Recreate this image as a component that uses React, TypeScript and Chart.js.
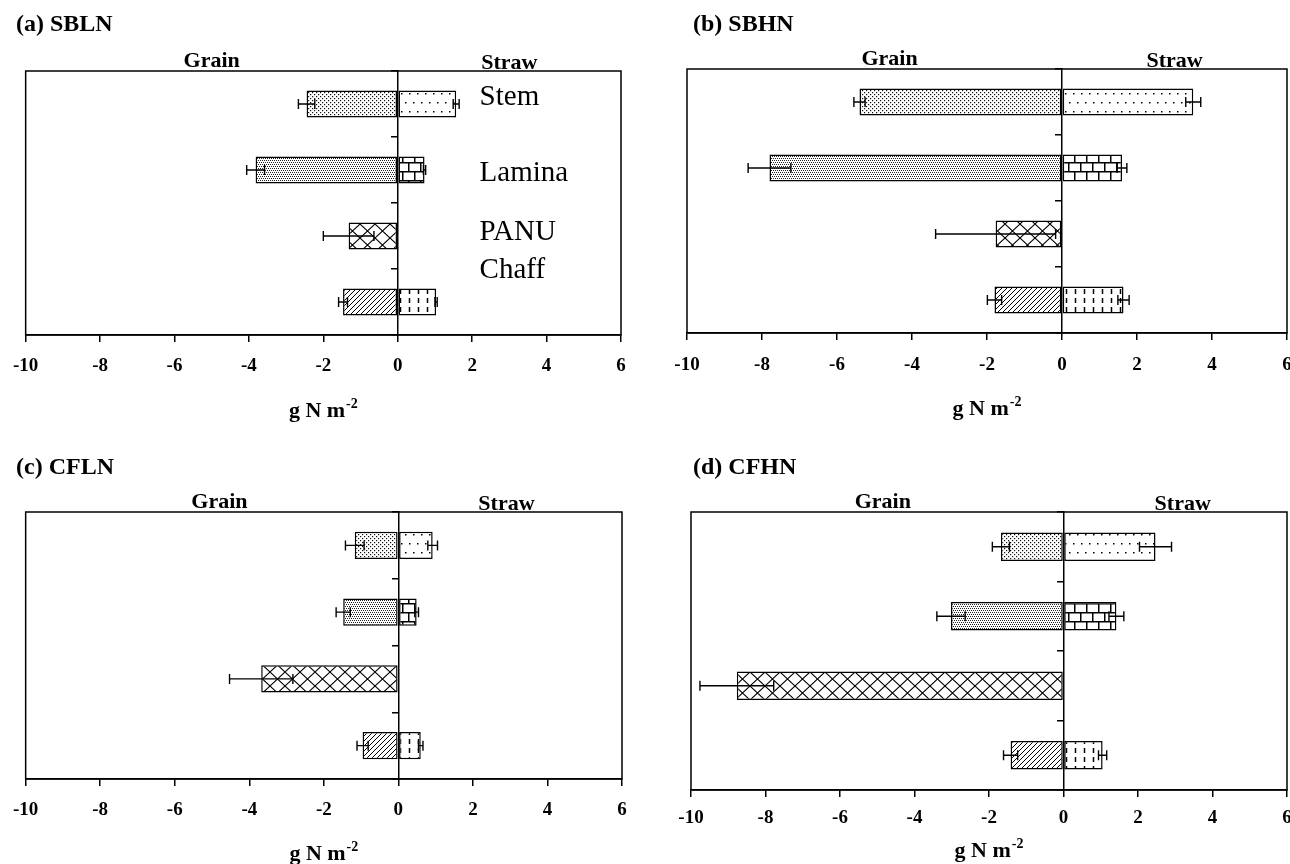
import React, { useEffect, useRef } from 'react';
import { Chart, registerables } from 'chart.js';
Chart.register(...registerables);

// ---------- data ----------
const categories = ['Stem', 'Lamina', 'PANU', 'Chaff'];
const xTicks = [-10, -8, -6, -4, -2, 0, 2, 4, 6];
const panelTitles = ['(a) SBLN', '(b) SBHN', '(c) CFLN', '(d) CFHN'];
const sideLabels = ['Grain', 'Straw'];

const grainA = [-2.45, -3.82, -1.32, -1.47];
const grainErrA = [0.22, 0.24, 0.68, 0.12];
const strawA = [1.57, 0.72, 0, 1.03];
const strawErrA = [0.08, 0.03, 0, 0.03];

const grainB = [-5.4, -7.8, -1.77, -1.8];
const grainErrB = [0.15, 0.57, 1.6, 0.19];
const strawB = [3.5, 1.6, 0, 1.64];
const strawErrB = [0.2, 0.13, 0, 0.15];

const grainC = [-1.17, -1.48, -3.68, -0.96];
const grainErrC = [0.25, 0.19, 0.85, 0.15];
const strawC = [0.92, 0.49, 0, 0.6];
const strawErrC = [0.13, 0.05, 0, 0.06];

const grainD = [-1.68, -3.02, -8.77, -1.42];
const grainErrD = [0.23, 0.38, 0.99, 0.19];
const strawD = [2.47, 1.42, 0, 1.05];
const strawErrD = [0.43, 0.2, 0, 0.11];

// ---------- layout ----------
const W = 1290;
const H = 864;
const CW = 1340; // canvas wider than page so edge tick labels never squeeze the plot
const SERIF = '"Liberation Serif", "Times New Roman", serif';

type Panel = {
  title: string;
  grain: number[]; grainErr: number[]; straw: number[]; strawErr: number[];
  L: number; R: number; T: number; B: number;
  labelY: number; axisTitleY: number; titleX: number; titleY: number;
  grainX: number; strawX: number; showCats: boolean;
};

const panels: Panel[] = [
  { title: panelTitles[0], grain: grainA, grainErr: grainErrA, straw: strawA, strawErr: strawErrA,
    L: 24, R: 621, T: 71, B: 335, labelY: 366, axisTitleY: 410, titleX: 16, titleY: 25,
    grainX: -5.0, strawX: 3.0, showCats: true },
  { title: panelTitles[1], grain: grainB, grainErr: grainErrB, straw: strawB, strawErr: strawErrB,
    L: 687, R: 1287, T: 69, B: 333, labelY: 365, axisTitleY: 408, titleX: 693, titleY: 25,
    grainX: -4.6, strawX: 3.0, showCats: false },
  { title: panelTitles[2], grain: grainC, grainErr: grainErrC, straw: strawC, strawErr: strawErrC,
    L: 24, R: 622, T: 512, B: 779, labelY: 810, axisTitleY: 853, titleX: 16, titleY: 468,
    grainX: -4.8, strawX: 2.9, showCats: false },
  { title: panelTitles[3], grain: grainD, grainErr: grainErrD, straw: strawD, strawErr: strawErrD,
    L: 691, R: 1287, T: 512, B: 790, labelY: 818, axisTitleY: 850, titleX: 693, titleY: 468,
    grainX: -4.85, strawX: 3.2, showCats: false },
];

// label offsets (category units) for the category names drawn in panel (a)
const catLabelPos = [-0.1, 1.05, 1.95, 2.52];

// ---------- patterns ----------
function makePattern(kind: string): CanvasPattern | string {
  const c = document.createElement('canvas');
  let w = 8, h = 8;
  if (kind === 'fineDots') { w = 4; h = 4; }
  if (kind === 'denseDots') { w = 4; h = 4; }
  if (kind === 'sparseDots') { w = 8; h = 18; }
  if (kind === 'brick') { w = 12; h = 18; }
  if (kind === 'cross') { w = 15; h = 14; }
  if (kind === 'diag') { w = 5; h = 5; }
  if (kind === 'vdash') { w = 9; h = 9; }
  c.width = w; c.height = h;
  const ctx = c.getContext('2d')!;
  ctx.fillStyle = '#fff';
  ctx.fillRect(0, 0, w, h);
  ctx.fillStyle = '#000';
  ctx.strokeStyle = '#000';
  if (kind === 'fineDots') {
    ctx.fillStyle = '#111';
    ctx.fillRect(0, 0, 1.2, 1.2); ctx.fillRect(2, 2, 1.2, 1.2);
  } else if (kind === 'denseDots') {
    ctx.fillStyle = '#222';
    ctx.fillRect(0, 0, 1, 1); ctx.fillRect(2, 0, 1, 1); ctx.fillRect(1, 2, 1, 1); ctx.fillRect(3, 2, 1, 1);
  } else if (kind === 'sparseDots') {
    ctx.fillRect(1, 3, 1.5, 1.5); ctx.fillRect(5, 12, 1.5, 1.5);
  } else if (kind === 'brick') {
    ctx.lineWidth = 1.5;
    ctx.beginPath();
    ctx.moveTo(0, 0.75); ctx.lineTo(w, 0.75);
    ctx.moveTo(0, 9.75); ctx.lineTo(w, 9.75);
    ctx.moveTo(0.75, 0); ctx.lineTo(0.75, 9);
    ctx.moveTo(6.75, 9); ctx.lineTo(6.75, 18);
    ctx.stroke();
  } else if (kind === 'cross') {
    ctx.lineWidth = 1.1;
    ctx.beginPath();
    ctx.moveTo(0, 0); ctx.lineTo(w, h);
    ctx.moveTo(0, h); ctx.lineTo(w, 0);
    ctx.stroke();
  } else if (kind === 'diag') {
    ctx.lineWidth = 1;
    ctx.beginPath();
    ctx.moveTo(-1, h + 1); ctx.lineTo(w + 1, -1);
    ctx.moveTo(-1, 1); ctx.lineTo(1, -1);
    ctx.moveTo(w - 1, h + 1); ctx.lineTo(w + 1, h - 1);
    ctx.stroke();
  } else if (kind === 'vdash') {
    ctx.lineWidth = 1.5;
    ctx.beginPath();
    ctx.moveTo(4.5, 1); ctx.lineTo(4.5, 6);
    ctx.stroke();
  }
  const pat = ctx.createPattern(c, 'repeat');
  return pat || '#fff';
}

function PanelChart({ p }: { p: Panel }) {
  const ref = useRef<HTMLCanvasElement | null>(null);
  useEffect(() => {
    if (!ref.current) return;
    const grainPats = [makePattern('fineDots'), makePattern('denseDots'), makePattern('cross'), makePattern('diag')];
    const strawPats = [makePattern('sparseDots'), makePattern('brick'), makePattern('none'), makePattern('vdash')];
    const axisH = 70;

    const overlay = {
      id: 'overlay',
      afterDatasetsDraw(chart: any) {
        const { ctx, chartArea: ca, scales } = chart;
        const x = scales.x, y = scales.y;
        ctx.save();
        // error bars
        ctx.strokeStyle = '#000';
        ctx.lineWidth = 1.4;
        const sets: [number[], number[]][] = [[p.grain, p.grainErr], [p.straw, p.strawErr]];
        sets.forEach(([vals, errs]) => {
          vals.forEach((v, i) => {
            const e = errs[i];
            if (!e) return;
            const x1 = x.getPixelForValue(v - e);
            const x2 = x.getPixelForValue(v + e);
            const yc = y.getPixelForValue(i);
            ctx.beginPath();
            ctx.moveTo(x1, yc); ctx.lineTo(x2, yc);
            ctx.moveTo(x1, yc - 5); ctx.lineTo(x1, yc + 5);
            ctx.moveTo(x2, yc - 5); ctx.lineTo(x2, yc + 5);
            ctx.stroke();
          });
        });
        // frame
        ctx.lineWidth = 1.5;
        ctx.strokeRect(ca.left, ca.top, ca.right - ca.left, ca.bottom - ca.top);
        // panel title
        ctx.fillStyle = '#000';
        ctx.textBaseline = 'middle';
        ctx.textAlign = 'left';
        ctx.font = `bold 24px ${SERIF}`;
        ctx.fillText(p.title, p.titleX, p.titleY);
        // Grain / Straw
        ctx.textAlign = 'center';
        ctx.textBaseline = 'alphabetic';
        ctx.font = `bold 22px ${SERIF}`;
        ctx.fillText(sideLabels[0], x.getPixelForValue(p.grainX), ca.top - 4);
        ctx.fillText(sideLabels[1], x.getPixelForValue(p.strawX), ca.top - 2);
        // category names
        if (p.showCats) {
          ctx.textAlign = 'left';
          ctx.textBaseline = 'middle';
          ctx.font = `29px ${SERIF}`;
          categories.forEach((c, i) => {
            ctx.fillText(c, x.getPixelForValue(2.2), y.getPixelForValue(catLabelPos[i]));
          });
        }
        // axis title g N m-2
        const main = 'g N m';
        const sup = '-2';
        ctx.font = `bold 22px ${SERIF}`;
        const w1 = ctx.measureText(main).width;
        ctx.font = `bold 14px ${SERIF}`;
        const w2 = ctx.measureText(sup).width;
        const cx = (ca.left + ca.right) / 2;
        const sx = cx - (w1 + w2 + 1) / 2;
        ctx.textAlign = 'left';
        ctx.textBaseline = 'alphabetic';
        ctx.font = `bold 22px ${SERIF}`;
        ctx.fillText(main, sx, p.axisTitleY + 7);
        ctx.font = `bold 14px ${SERIF}`;
        ctx.fillText(sup, sx + w1 + 1, p.axisTitleY - 2);
        ctx.restore();
      },
    };

    const chart = new Chart(ref.current, {
      type: 'bar',
      data: {
        labels: categories,
        datasets: [
          {
            label: sideLabels[0],
            data: p.grain,
            backgroundColor: grainPats as any,
            borderColor: '#000',
            borderWidth: 1.5,
            borderSkipped: false,
            barPercentage: 0.41,
            categoryPercentage: 1,
          },
          {
            label: sideLabels[1],
            data: p.straw.map((v) => (v === 0 ? null : v)),
            backgroundColor: strawPats as any,
            borderColor: '#000',
            borderWidth: 1.5,
            borderSkipped: false,
            barPercentage: 0.41,
            categoryPercentage: 1,
          },
        ],
      },
      options: {
        indexAxis: 'y',
        responsive: false,
        animation: false,
        layout: { padding: { left: p.L, right: CW - p.R, top: p.T, bottom: H - p.B - axisH } },
        plugins: { legend: { display: false }, tooltip: { enabled: false }, title: { display: false } },
        scales: {
          x: {
            type: 'linear',
            min: -10,
            max: 6,
            stacked: true,
            position: 'bottom',
            afterBuildTicks: (s: any) => { s.ticks = xTicks.map((v) => ({ value: v })); },
            afterFit: (s: any) => { s.height = axisH; },
            ticks: {
              color: '#000',
              font: { family: SERIF, size: 19, weight: 'bold' },
              padding: p.labelY - p.B - 7 - 11,
              maxRotation: 0,
              autoSkip: false,
            },
            grid: { drawOnChartArea: false, drawTicks: true, tickLength: 7, color: '#000', lineWidth: 1.5 },
            border: { display: true, color: '#000', width: 1.5 },
          },
          y: {
            type: 'category',
            stacked: true,
            position: { x: 0 } as any,
            offset: true,
            ticks: { display: false },
            grid: { offset: true, drawOnChartArea: false, drawTicks: true, tickLength: 6, color: '#000', lineWidth: 1.5 },
            border: { display: true, color: '#000', width: 1.5 },
          },
        },
      } as any,
      plugins: [overlay],
    });
    return () => chart.destroy();
  }, [p]);
  return (
    <canvas
      ref={ref}
      width={CW}
      height={H}
      style={{ position: 'absolute', left: 0, top: 0, width: CW, height: H }}
    />
  );
}

export default function App() {
  return (
    <div style={{ position: 'absolute', left: 0, top: 0, width: W, height: H, background: '#fff', overflow: 'hidden' }}>
      {panels.map((p, i) => (
        <PanelChart key={i} p={p} />
      ))}
    </div>
  );
}
